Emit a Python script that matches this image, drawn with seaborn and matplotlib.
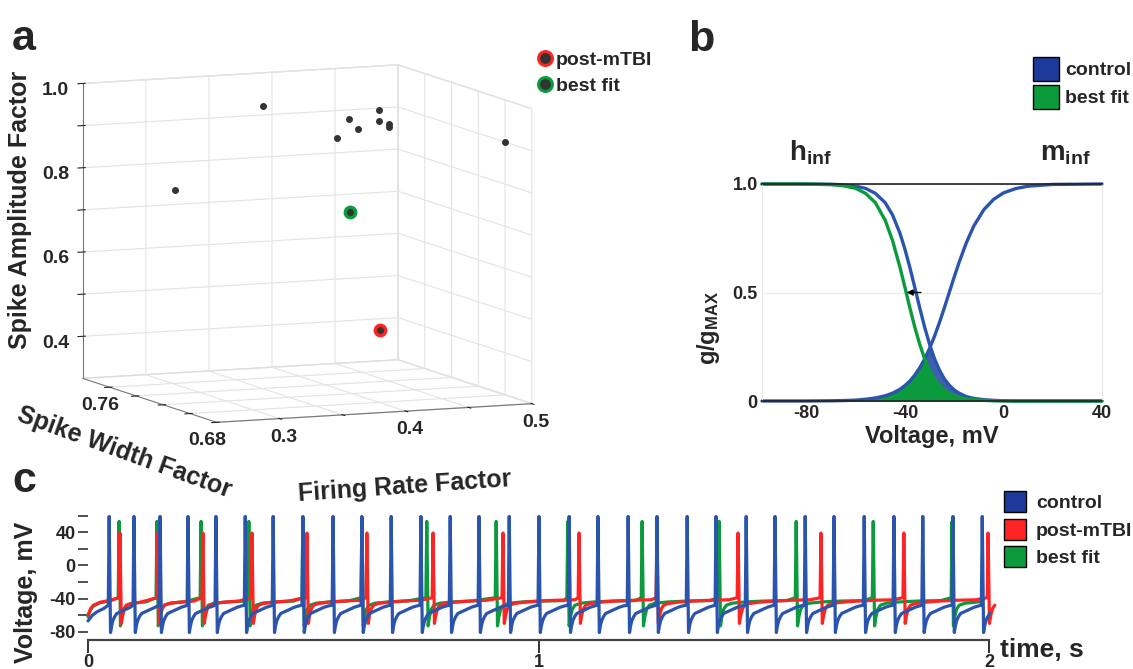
import numpy as np
import matplotlib
matplotlib.use('Agg')
import matplotlib.pyplot as plt
from matplotlib.patches import Patch
from matplotlib.lines import Line2D
import seaborn as sns

sns.set_style('white')
plt.rcParams['font.family'] = ['Liberation Sans', 'DejaVu Sans']
plt.rcParams['font.weight'] = 'bold'
plt.rcParams['axes.labelweight'] = 'bold'
plt.rcParams['axes.unicode_minus'] = False
plt.rcParams['mathtext.fontset'] = 'custom'
plt.rcParams['mathtext.rm'] = 'Liberation Sans:bold'
plt.rcParams['mathtext.it'] = 'Liberation Sans:bold'
plt.rcParams['mathtext.bf'] = 'Liberation Sans:bold'
plt.rcParams['grid.color'] = '#e3e3e3'
plt.rcParams['grid.linewidth'] = 0.8

BLUE = '#2b55ad'
BLUE_PATCH = '#1c3a98'
BLUE_FILL = '#3f5fae'
RED = '#ff2424'
GREEN = '#0b9b3c'
DOT = '#333333'

# ---- panel a: parameter space (firing rate, spike width, spike amplitude factors)
fit_rate = [0.302, 0.372, 0.409, 0.440, 0.426, 0.474, 0.464, 0.461, 0.482, 0.489]
fit_width = [0.76, 0.76, 0.74, 0.76, 0.74, 0.77, 0.76, 0.75, 0.77, 0.69]
fit_amp = [0.759, 0.946, 0.884, 0.904, 0.903, 0.908, 0.895, 0.897, 0.867, 0.912]
best_point = (0.398, 0.72, 0.731)
post_point = (0.422, 0.72, 0.448)

# ---- panel b: steady-state curves (voltage in mV, g/gmax)
v_grid = [-98, -80, -70, -65, -60, -56, -52, -48, -45, -42, -40, -38, -36, -34, -32,
          -30, -28, -26, -24, -22, -20, -18, -15, -12, -8, -4, 0, 5, 10, 20, 40]
m_control = [0.000, 0.000, 0.001, 0.002, 0.004, 0.008, 0.014, 0.024, 0.036, 0.054, 0.071,
             0.092, 0.119, 0.153, 0.193, 0.242, 0.298, 0.361, 0.429, 0.500, 0.571, 0.639,
             0.731, 0.807, 0.881, 0.929, 0.959, 0.979, 0.990, 0.998, 1.000]
h_control = [1.000, 1.000, 0.999, 0.996, 0.990, 0.980, 0.957, 0.914, 0.857, 0.773, 0.700,
             0.616, 0.524, 0.430, 0.341, 0.262, 0.195, 0.143, 0.102, 0.073, 0.051, 0.036,
             0.020, 0.012, 0.006, 0.003, 0.001, 0.000, 0.000, 0.000, 0.000]
h_best = [1.000, 1.000, 0.997, 0.992, 0.980, 0.957, 0.914, 0.833, 0.739, 0.616, 0.524,
          0.430, 0.341, 0.262, 0.195, 0.143, 0.102, 0.073, 0.051, 0.036, 0.025, 0.017,
          0.010, 0.006, 0.003, 0.001, 0.001, 0.000, 0.000, 0.000, 0.000]
shift_from, shift_to = -33.5, -39.3

# ---- panel c: voltage traces; spike times (s) and spike shape
ctrl_spikes = [0.047, 0.102, 0.160, 0.222, 0.284, 0.349, 0.411, 0.477, 0.544, 0.608,
               0.673, 0.739, 0.804, 0.868, 0.935, 1.001, 1.068, 1.132, 1.199, 1.263,
               1.330, 1.394, 1.461, 1.525, 1.592, 1.656, 1.723, 1.789, 1.853, 1.920, 1.985]
post_spikes = [0.071, 0.155, 0.255, 0.364, 0.486, 0.619, 0.766, 0.921, 1.090, 1.263,
               1.443, 1.627, 1.811, 1.998]
fit_spikes = [0.069, 0.153, 0.251, 0.357, 0.477, 0.608, 0.752, 0.906, 1.065, 1.230,
              1.401, 1.572, 1.743, 1.918]

ctrl_start_t, ctrl_start_v = [0.0, 0.010, 0.020, 0.035], [-67, -60, -56, -52]
ctrl_rec_t = [0.003, 0.005, 0.008, 0.012, 0.017, 0.025, 0.035, 0.047, 0.056]
ctrl_rec_v = [-81, -74, -67, -62, -58, -56, -53.5, -50.5, -49]
ctrl_thr, ctrl_peak, ctrl_end = -48, 59, 2.008

post_start_t, post_start_v = [0.0, 0.006, 0.012, 0.027, 0.050], [-60, -52, -48, -44.5, -42]
post_rec_t = [0.003, 0.006, 0.010, 0.015, 0.025, 0.045, 0.080, 0.120, 0.160]
post_rec_v = [-70, -60, -52, -48, -46, -44.5, -43, -42, -41.5]
post_thr, post_peak, post_end = -39, 39, 2.02

fit_start_t, fit_start_v = [0.0, 0.006, 0.012, 0.027, 0.050], [-62, -53, -49, -45, -42.5]
fit_rec_t = [0.003, 0.006, 0.010, 0.016, 0.030, 0.060, 0.100, 0.150]
fit_rec_v = [-73, -62, -53, -48, -45.5, -44, -43, -42.5]
fit_thr, fit_peak, fit_end = -39, 53, 2.015


def build_trace(spikes, start_t, start_v, rec_t, rec_v, thr, peak, t_end):
    t, v = list(start_t), list(start_v)
    stops = list(spikes[1:]) + [t_end]
    for ts, nxt in zip(spikes, stops):
        t += [ts - 0.002, ts]
        v += [thr, peak]
        for dt, dv in zip(rec_t, rec_v):
            if ts + dt < nxt - 0.004:
                t.append(ts + dt)
                v.append(dv)
    return t, v


fig = plt.figure(figsize=(11.33, 6.69), dpi=100)

# ================= a =================
ax3 = fig.add_axes([0.006, 0.297, 0.52, 0.66], projection='3d')
ax3.set_proj_type('ortho')
ax3.view_init(elev=8, azim=-113)
ax3.set_box_aspect((1, 1, 0.87), zoom=1.25)
for axis in (ax3.xaxis, ax3.yaxis, ax3.zaxis):
    axis.set_pane_color((1, 1, 1, 1))
    axis.pane.set_edgecolor('#dddddd')
    axis.line.set_color('#777777')
ax3.scatter(fit_rate, fit_width, fit_amp, s=16, c=DOT, depthshade=False)
for pt, col in [(best_point, GREEN), (post_point, RED)]:
    ax3.scatter([pt[0]], [pt[1]], [pt[2]], s=80, c=col, depthshade=False)
    ax3.scatter([pt[0]], [pt[1]], [pt[2]], s=16, c=DOT, depthshade=False)
ax3.set_xlim(0.25, 0.5)
ax3.set_ylim(0.68, 0.78)
ax3.set_zlim(0.3, 1.0)
ax3.set_xticks([0.3, 0.35, 0.4, 0.45, 0.5], ['0.3', '', '0.4', '', '0.5'])
ax3.set_yticks([0.68, 0.70, 0.72, 0.74, 0.76], ['0.68', '', '', '', '0.76'])
ax3.set_zticks([0.4, 0.5, 0.6, 0.7, 0.8, 0.9, 1.0], ['0.4', '', '0.6', '', '0.8', '', '1.0'])
ax3.tick_params(labelsize=14, pad=2)
ax3.tick_params(axis='x', pad=-3)
ax3.tick_params(axis='y', pad=-3)
fig.text(20 / 1133, 1 - 210 / 669, 'Spike Amplitude Factor', rotation=90, size=18,
         ha='center', va='center')
fig.text(124 / 1133, 1 - 452 / 669, 'Spike Width Factor', rotation=-20, size=18,
         ha='center', va='center', rotation_mode='anchor')
fig.text(405 / 1133, 1 - 487 / 669, 'Firing Rate Factor', rotation=4, size=18,
         ha='center', va='center', rotation_mode='anchor')
leg_a = [Line2D([], [], ls='', marker='o', ms=10, mfc=DOT, mec=RED, mew=2.2),
         Line2D([], [], ls='', marker='o', ms=10, mfc=DOT, mec=GREEN, mew=2.2)]
fig.legend(leg_a, ['post-mTBI', 'best fit'], loc='upper left', frameon=False,
           bbox_to_anchor=(539 / 1133, 1 - 51 / 669), fontsize=14, handlelength=0.6,
           handletextpad=0.25, labelspacing=0.45, borderpad=0, borderaxespad=0)

# ================= b =================
axb = fig.add_axes([762 / 1133, 1 - 401 / 669, 340 / 1133, 217 / 669])
axb.fill_between(v_grid, 0, np.minimum(h_control, m_control), color=BLUE_FILL, lw=0)
axb.fill_between(v_grid, 0, np.minimum(h_best, m_control), color=GREEN, lw=0)
sns.lineplot(x=v_grid, y=h_control, color=BLUE, lw=2.4, ax=axb, sort=False)
sns.lineplot(x=v_grid, y=m_control, color=BLUE, lw=2.4, ax=axb, sort=False)
sns.lineplot(x=v_grid, y=h_best, color=GREEN, lw=2.4, ax=axb, sort=False)
for ln in axb.lines:
    ln.set_clip_on(False)
axb.annotate('', xy=(shift_to, 0.5), xytext=(shift_from, 0.5),
             arrowprops=dict(arrowstyle='-|>', color='k', lw=1, mutation_scale=9,
                             shrinkA=0, shrinkB=0))
axb.set_xlim(-98, 40)
axb.set_ylim(0, 1)
axb.set_xticks([-80, -40, 0, 40])
axb.set_yticks([0, 0.5, 1.0], ['0', '0.5', '1.0'])
axb.tick_params(length=0, labelsize=13, pad=3)
axb.grid(axis='y', color='#ececec', lw=1)
for side in ('left', 'right'):
    axb.spines[side].set_color('#e6e6e6')
for side in ('top', 'bottom'):
    axb.spines[side].set_color('#222222')
    axb.spines[side].set_linewidth(1.2)
axb.set_xlabel('Voltage, mV', size=17, labelpad=2)
fig.text(708 / 1133, 1 - 328 / 669, 'g/g$_{\\rm MAX}$', rotation=90, size=17,
         ha='center', va='center')
axb.text(-87, 1.11, 'h$_{\\rm inf}$', size=20)
axb.text(15, 1.11, 'm$_{\\rm inf}$', size=20)
fig.legend([Patch(fc=BLUE_PATCH, ec='k'), Patch(fc=GREEN, ec='k')], ['control', 'best fit'],
           loc='upper left', frameon=False, bbox_to_anchor=(1033 / 1133, 1 - 57 / 669),
           fontsize=14, handlelength=1.34, handleheight=1.53, labelspacing=0.2,
           handletextpad=0.3, borderpad=0, borderaxespad=0)

# ================= c =================
axc = fig.add_axes([88 / 1133, 1 - 640 / 669, 901 / 1133, 126 / 669])
traces = [
    (fit_spikes, fit_start_t, fit_start_v, fit_rec_t, fit_rec_v, fit_thr, fit_peak, fit_end, GREEN),
    (post_spikes, post_start_t, post_start_v, post_rec_t, post_rec_v, post_thr, post_peak, post_end, RED),
    (ctrl_spikes, ctrl_start_t, ctrl_start_v, ctrl_rec_t, ctrl_rec_v, ctrl_thr, ctrl_peak, ctrl_end, BLUE),
]
for spikes, st, sv, rt, rv, thr, peak, t_end, col in traces:
    tt, vv = build_trace(spikes, st, sv, rt, rv, thr, peak, t_end)
    sns.lineplot(x=tt, y=vv, color=col, lw=2.3, ax=axc, sort=False, estimator=None)
for ln in axc.lines:
    ln.set_clip_on(False)
axc.set_xlim(0, 2)
axc.set_ylim(-90, 62)
for side in ('left', 'right', 'top'):
    axc.spines[side].set_visible(False)
axc.spines['bottom'].set_color('#444444')
axc.spines['bottom'].set_linewidth(1.6)
axc.set_yticks([-80, -40, 0, 40], ['-80', '-40', '0', '40'])
axc.set_yticks([-60, -20, 20, 60], minor=True)
axc.set_xticks([0, 1, 2], ['0', '1', '2'])
axc.tick_params(axis='y', which='both', direction='out', length=7, width=1.2,
                color='#333333', left=True, labelsize=13, pad=2)
axc.tick_params(axis='x', direction='out', length=9, width=1.4, color='#333333',
                bottom=True, labelsize=13, pad=1)
fig.text(26 / 1133, 1 - 592 / 669, 'Voltage, mV', rotation=90, size=18,
         ha='center', va='center')
fig.text(1000 / 1133, 1 - 650 / 669, 'time, s', size=19, ha='left', va='center')
fig.legend([Patch(fc=BLUE_PATCH, ec='k'), Patch(fc=RED, ec='k'), Patch(fc=GREEN, ec='k')],
           ['control', 'post-mTBI', 'best fit'], loc='upper left', frameon=False,
           bbox_to_anchor=(1004 / 1133, 1 - 491 / 669), fontsize=14, handlelength=1.15,
           handleheight=1.3, labelspacing=0.33, handletextpad=0.5, borderpad=0,
           borderaxespad=0)

# panel letters
fig.text(12 / 1133, 1 - 50 / 669, 'a', size=31, va='baseline')
fig.text(688 / 1133, 1 - 51 / 669, 'b', size=31, va='baseline')
fig.text(12 / 1133, 1 - 492 / 669, 'c', size=31, va='baseline')

fig.savefig('out.png', dpi=100)
